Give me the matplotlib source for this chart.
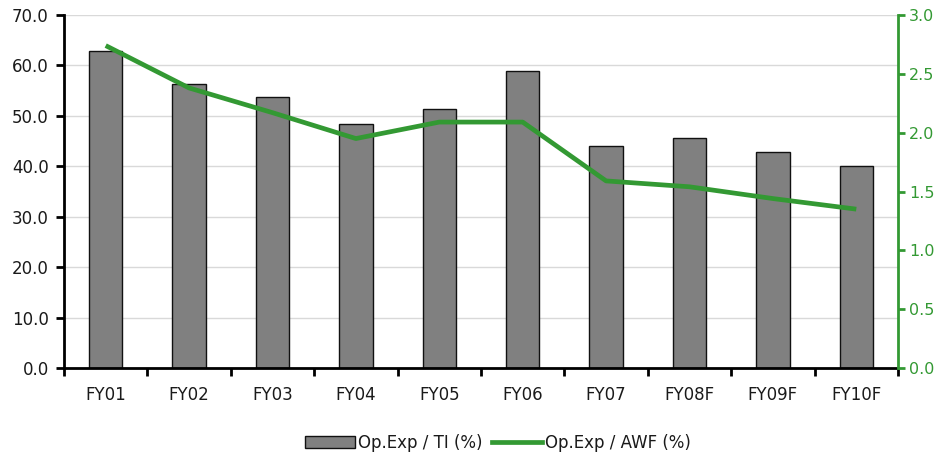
import matplotlib
matplotlib.use("Agg")
import matplotlib.pyplot as plt
import numpy as np
from matplotlib.patches import Patch
from matplotlib.lines import Line2D

categories = ["FY01", "FY02", "FY03", "FY04", "FY05", "FY06", "FY07", "FY08F", "FY09F", "FY10F"]
opexp_ti = [62.9, 56.3, 53.7, 48.3, 51.3, 58.9, 44.0, 45.6, 42.9, 40.0]
opexp_awf = [2.74, 2.38, 2.17, 1.95, 2.09, 2.09, 1.59, 1.54, 1.44, 1.35]
left_ticks = [0, 10, 20, 30, 40, 50, 60, 70]
right_ticks = [0.0, 0.5, 1.0, 1.5, 2.0, 2.5, 3.0]

plt.rcParams['font.family'] = ['DejaVu Sans']
GREEN = "#339933"
TXT = "#1a1a1a"
FS = 12

fig = plt.figure(figsize=(9.37, 4.58), dpi=100)
ax = fig.add_axes([64 / 937, 90 / 458, 834 / 937, 353 / 458])
x = np.arange(len(categories))

ax.bar(x, opexp_ti, width=0.4, color="#808080", edgecolor="#111111", linewidth=1.0, zorder=3)
ax.set_xlim(-0.5, len(categories) - 0.5)
ax.set_ylim(0, 70)
ax.set_yticks(left_ticks)
ax.set_yticklabels([f"{v:.1f}" for v in left_ticks], fontsize=FS, color=TXT)
ax.set_xticks(x)
ax.set_xticklabels(categories, fontsize=FS, color=TXT)
ax.set_xticks(np.arange(-0.5, len(categories)), minor=True)
ax.tick_params(axis="x", which="major", length=0, pad=13)
ax.tick_params(axis="x", which="minor", length=6, width=2, direction="out", color="black")
ax.tick_params(axis="y", length=6, width=2, direction="out", color="black", pad=5)
ax.grid(axis="y", color="#d9d9d9", linewidth=1.0, zorder=0)
ax.set_axisbelow(True)
for s in ["top", "right"]:
    ax.spines[s].set_visible(False)
ax.spines["left"].set_linewidth(2)
ax.spines["bottom"].set_linewidth(2)
ax.spines["bottom"].set_zorder(5)

ax2 = ax.twinx()
ax2.plot(x, opexp_awf, color=GREEN, linewidth=3.4, solid_capstyle="butt", zorder=4)
ax2.set_ylim(0, 3.0)
ax2.set_yticks(right_ticks)
ax2.set_yticklabels([f"{v:.1f}" for v in right_ticks], fontsize=11.5, color=GREEN)
ax2.tick_params(axis="y", length=5, width=2, direction="out", color=GREEN, pad=3)
for s in ["top", "left", "bottom"]:
    ax2.spines[s].set_visible(False)
ax2.spines["right"].set_color(GREEN)
ax2.spines["right"].set_linewidth(2)

handles = [Patch(facecolor="#808080", edgecolor="#111111", linewidth=1.0),
           Line2D([0], [0], color=GREEN, linewidth=3.4)]
fig.legend(handles, ["Op.Exp / TI (%)", "Op.Exp / AWF (%)"], loc="center",
           bbox_to_anchor=(498 / 937, (458 - 443) / 458), ncol=2, frameon=False,
           fontsize=FS, handlelength=3.0, handletextpad=0.15, columnspacing=0.6,
           labelcolor=TXT)

fig.savefig("out.png", dpi=100)
